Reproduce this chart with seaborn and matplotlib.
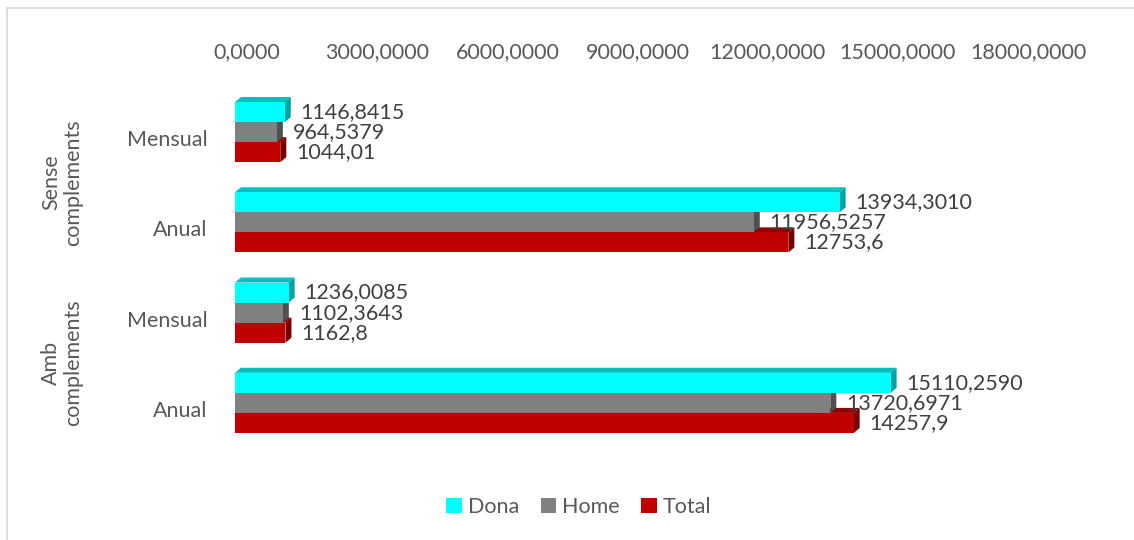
import numpy as np
import pandas as pd
import matplotlib
matplotlib.use("Agg")
import matplotlib.pyplot as plt
import matplotlib.transforms as mtrans
from matplotlib.patches import Polygon, Patch
from matplotlib.lines import Line2D
import seaborn as sns

# ---------------- data ----------------
groups = ["Sense complements", "Sense complements", "Amb complements", "Amb complements"]
periods = ["Mensual", "Anual", "Mensual", "Anual"]
series = ["Dona", "Home", "Total"]
dona = [1146.8415, 13934.3010, 1236.0085, 15110.2590]
home = [964.5379, 11956.5257, 1102.3643, 13720.6971]
total = [1044.01, 12753.6, 1162.8, 14257.9]
x_ticks = [0, 3000, 6000, 9000, 12000, 15000, 18000]

colors = {"Dona": "#00FFFF", "Home": "#808080", "Total": "#C00000"}
side_colors = {"Dona": "#00A3A3", "Home": "#505050", "Total": "#7A0000"}
top_colors = {"Dona": "#00C0C0", "Home": "#606060", "Total": "#900000"}
TXT = "#595959"
LBL = "#404040"

rows = [f"{g}|{p}" for g, p in zip(groups, periods)]
values = {"Dona": dona, "Home": home, "Total": total}
df = pd.DataFrame({
    "row": np.repeat([rows], 3, axis=0).ravel(),
    "serie": np.repeat(series, len(rows)),
    "value": np.concatenate([dona, home, total]),
})

sns.set_style("white")
plt.rcParams["font.family"] = ["Lato", "DejaVu Sans"]
FS = 15.5

W, H = 1134, 540
fig = plt.figure(figsize=(W / 100, H / 100), dpi=100)
ax = fig.add_axes([235 / W, 1 - 448 / H, 781 / W, 361 / H])

sns.barplot(data=df, y="row", x="value", hue="serie", order=rows,
            hue_order=series, palette=colors, saturation=1, width=0.667,
            orient="h", ax=ax, legend=False, linewidth=0, errorbar=None)

ax.set_xlim(0, 18000)
ax.set_ylim(3.5, -0.5)
for s in ax.spines.values():
    s.set_visible(False)
ax.set_xlabel("")
ax.set_ylabel("")
ax.grid(False)

# --- 3D faces ---
p00 = ax.transData.transform((0, 0))
p11 = ax.transData.transform((1, 1))
sx = p11[0] - p00[0]          # px per x unit
sy = p00[1] - p11[1]          # px per y unit (inverted axis, positive)
DX, DY = 6 / sx, 5 / sy       # depth in data units

z_of = {"Total": 2, "Home": 3, "Dona": 4}
for si, name in enumerate(series):
    cont = ax.containers[si]
    for bi, bar in enumerate(cont):
        bar.set_zorder(z_of[name])
        x0 = bar.get_x()
        w = bar.get_width()
        y0 = bar.get_y()
        h = bar.get_height()
        ytop, ybot = min(y0, y0 + h), max(y0, y0 + h)
        xe = x0 + w
        top = Polygon([(x0, ytop), (xe, ytop), (xe + DX, ytop - DY), (x0 + DX, ytop - DY)],
                      closed=True, facecolor=top_colors[name], edgecolor="none",
                      zorder=z_of[name] - 0.1)
        side = Polygon([(xe, ytop), (xe + DX, ytop - DY), (xe + DX, ybot - DY), (xe, ybot)],
                       closed=True, facecolor=side_colors[name], edgecolor="none",
                       zorder=z_of[name] - 0.1)
        ax.add_patch(top)
        ax.add_patch(side)
        v = values[name][bi]
        if name == "Total":
            lab = f"{v:g}".replace(".", ",")
        else:
            lab = f"{v:.4f}".replace(".", ",")
        tr = mtrans.offset_copy(ax.transData, fig=fig, x=16, y=0, units="dots")
        ax.text(xe, y0 + h / 2, lab, transform=tr, ha="left", va="center",
                fontsize=FS, color=LBL, zorder=10)

# --- axes ticks ---
ax.xaxis.tick_top()
ax.set_xticks(x_ticks)
ax.set_xticklabels([f"{t:.4f}".replace(".", ",") for t in x_ticks])
ax.tick_params(axis="x", length=0, pad=18, labelsize=FS, labelcolor=TXT)
ax.set_yticks(range(len(rows)))
ax.set_yticklabels(periods)
ax.tick_params(axis="y", length=0, pad=20, labelsize=FS, labelcolor=TXT)
for lab in ax.get_xticklabels():
    lab.set_transform(lab.get_transform() + mtrans.ScaledTranslation(12 / 100, 0, fig.dpi_scale_trans))
for lab in ax.get_yticklabels():
    lab.set_transform(lab.get_transform() + mtrans.ScaledTranslation(0, -6 / 100, fig.dpi_scale_trans))

# --- group labels ---
blend = mtrans.blended_transform_factory(fig.transFigure, ax.transData)
blend = blend + mtrans.ScaledTranslation(0, -5 / 100, fig.dpi_scale_trans)
group_names = list(dict.fromkeys(groups))
for g in group_names:
    idx = [i for i, gg in enumerate(groups) if gg == g]
    ymid = np.mean(idx)
    ax.text(62 / W, ymid, g.replace(" ", "\n"), transform=blend, rotation=90,
            ha="center", va="center", multialignment="center", fontsize=FS,
            color=TXT, linespacing=1.1)

# --- legend ---
handles = [Patch(facecolor=colors[s], edgecolor="none", label=s) for s in series]
leg = fig.legend(handles=handles, loc="center", bbox_to_anchor=(579 / W, 1 - 507 / H),
                 ncol=3, frameon=False, handlelength=0.7, handleheight=0.7,
                 handletextpad=0.3, columnspacing=1.0, fontsize=FS)
for t in leg.get_texts():
    t.set_color(TXT)

# --- chart frame ---
fig.add_artist(Line2D([7 / W, 1], [1 - 8 / H, 1 - 8 / H], transform=fig.transFigure,
                      color="#D9D9D9", lw=1.2))
fig.add_artist(Line2D([7 / W, 7 / W], [0, 1 - 8 / H], transform=fig.transFigure,
                      color="#D9D9D9", lw=1.2))

fig.savefig("out.png", dpi=100)
